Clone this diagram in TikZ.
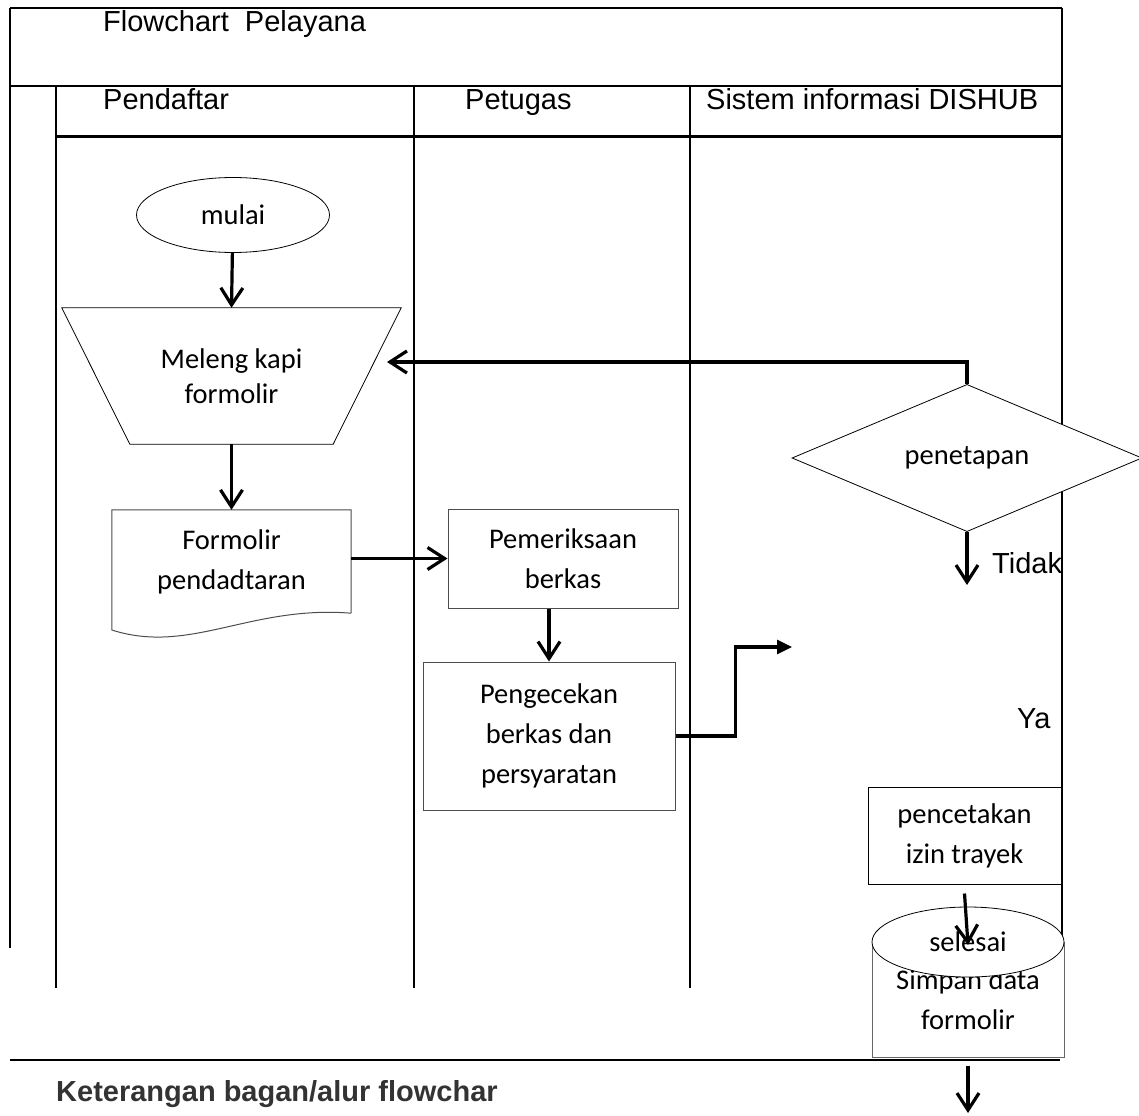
\documentclass[tikz,border=0pt]{standalone}
\usepackage{fontspec}
\setmainfont{Carlito}
\newfontfamily\arialfont{Liberation Sans}
\usetikzlibrary{arrows.meta,shapes.geometric}

\begin{document}
\begin{tikzpicture}[
  x=1pt,y=-1pt,
  >={Straight Barb[length=17pt,width=22pt]},
  flow/.style={->,line width=3.2pt},
  lane/.style={line width=1.6pt},
  head/.style={anchor=base west,inner sep=0pt,font=\arialfont\fontsize{29}{34}\selectfont},
  boxtext/.style={align=center,inner sep=0pt,font=\fontsize{28.5}{40}\selectfont},
  procbox/.style={
    boxtext,
    rectangle,
    draw=black!70,
    line width=1pt,
    fill=white
  },
  terminal/.style={
    boxtext,
    ellipse,
    draw,
    line width=0.8pt,
    fill=white
  }
]
  \useasboundingbox (0,0) rectangle (1139,1115);

  % swimlanes
  \draw[lane] (10,8) -- (1062,8);
  \draw[lane] (10,86) -- (1062,86);
  \draw[line width=3pt] (56,137) -- (1062,137);
  \draw[lane] (10,8) -- (10,948);
  \draw[lane] (56,86) -- (56,988);
  \draw[lane] (414,86) -- (414,988);
  \draw[lane] (690,86) -- (690,988);
  \draw[lane] (1062,8) -- (1062,1000);
  \draw[lane] (10,1060) -- (1060,1060);

  \node[head] (judul) at (103,32) {Flowchart\ \ Pelayana};
  \node[head] (pendaftar) at (103,110) {Pendaftar};
  \node[head] (petugas) at (465,110) {Petugas};
  \node[head] (dishub) at (706,110) {Sistem informasi DISHUB};

  % pendaftar
  \node[terminal,minimum width=193pt,minimum height=75pt] (mulai) at (233,215) {mulai};
  \node[boxtext,minimum width=339pt,minimum height=136pt,
    font=\fontsize{28.5}{35}\selectfont]
    (melengkapi) at (231.5,376) {Meleng kapi\\formolir};
  \draw[line width=0.8pt] (melengkapi.north west) -- (melengkapi.north east)
    -- ([xshift=-68pt]melengkapi.south east) -- ([xshift=68pt]melengkapi.south west)
    -- cycle;
  \node[boxtext,minimum width=239pt,minimum height=103pt] (formolir) at (231.5,561.5)
    {Formolir\\pendadtaran};
  \draw[black!70,line width=1pt] (formolir.south east) -- (formolir.north east)
    -- (formolir.north west) -- (formolir.west |- 0,630)
    .. controls (190,655) and (250,605) .. (formolir.south east);

  % petugas
  \node[procbox,minimum width=230pt,minimum height=99pt] (pemeriksaan) at (563,558.5)
    {Pemeriksaan\\berkas};
  \node[procbox,minimum width=252pt,minimum height=148pt] (pengecekan) at (549,736)
    {Pengecekan\\berkas dan\\persyaratan};

  % sistem informasi
  \node[boxtext,diamond,draw,line width=0.8pt,fill=white,
    minimum width=350pt,minimum height=146pt] (penetapan) at (967,458) {penetapan};
  \node[procbox,draw=black,minimum width=193pt,minimum height=97pt] (pencetakan)
    at (964.5,835.5) {pencetakan\\izin trayek};
  \node[procbox,draw=black!60,minimum width=192pt,minimum height=115pt] (simpan)
    at (968,999.5) {Simpan data\\formolir};
  \node[terminal,minimum width=192pt,minimum height=70pt] (selesai) at (968,942) {selesai};

  \coordinate (balik) at (387,362);
  \coordinate (lanjut) at (792,647);
  \coordinate (tidak) at (967,585);
  \coordinate (akhir) at (968,1113);

  \draw[flow] (mulai) -- (melengkapi.north);
  \draw[flow] (melengkapi.south) -- (formolir.north);
  \draw[flow] (formolir.east |- pemeriksaan.west) -- (pemeriksaan.west);
  \draw[flow] (pengecekan.north |- pemeriksaan.south) -- (pengecekan.north);
  \draw[line width=3.2pt,-{Triangle[length=15pt,width=14pt]}]
    (pengecekan.east) -- ++(60,0) |- (lanjut);
  \draw[flow] (penetapan.north) |- (balik);
  \draw[flow] (penetapan.south) -- (tidak);
  \draw[flow] ([yshift=-9pt]pencetakan.south) -- ([yshift=-3pt]selesai.center);
  \draw[flow] ([yshift=-8pt]simpan.south) -- (akhir);

  \node[head] (tidaklabel) at (992,573) {Tidak};
  \node[head] (yalabel) at (1017,728) {Ya};
  \node[head,font=\arialfont\bfseries\fontsize{29}{34}\selectfont,text=black!80]
    (keterangan) at (56,1101) {Keterangan bagan/alur flowchar};
\end{tikzpicture}
\end{document}
